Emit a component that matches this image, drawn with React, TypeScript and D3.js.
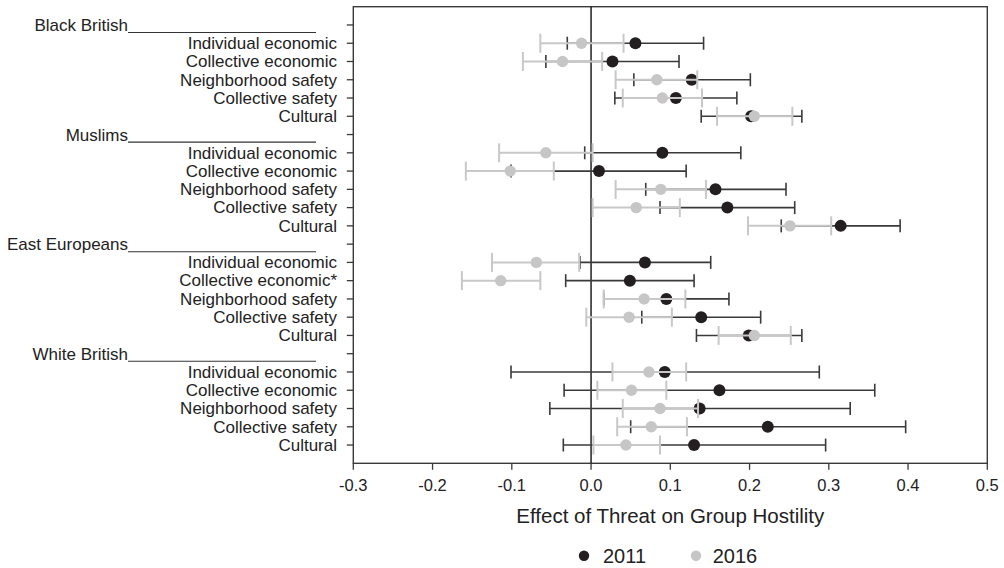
import * as d3 from "d3";

const groups = ["Black British", "Muslims", "East Europeans", "White British"];
const threats = [
  "Individual economic",
  "Collective economic",
  "Neighborhood safety",
  "Collective safety",
  "Cultural",
];
// threat labels that carry a star in the figure, as "group|threat"
const starred = ["East Europeans|Collective economic"];

// values in group order, 5 threats per group
const est2011 = [
  0.056, 0.027, 0.127, 0.107, 0.202,
  0.090, 0.010, 0.157, 0.172, 0.315,
  0.068, 0.049, 0.095, 0.139, 0.199,
  0.093, 0.162, 0.137, 0.223, 0.130,
];
const lo2011 = [
  -0.030, -0.057, 0.054, 0.030, 0.139,
  -0.008, -0.101, 0.069, 0.087, 0.240,
  -0.014, -0.032, 0.016, 0.064, 0.133,
  -0.101, -0.034, -0.052, 0.050, -0.035,
];
const hi2011 = [
  0.142, 0.111, 0.201, 0.184, 0.266,
  0.189, 0.120, 0.246, 0.257, 0.390,
  0.151, 0.130, 0.174, 0.214, 0.266,
  0.288, 0.358, 0.327, 0.397, 0.296,
];
const est2016 = [
  -0.012, -0.036, 0.083, 0.090, 0.206,
  -0.057, -0.102, 0.088, 0.057, 0.251,
  -0.069, -0.114, 0.067, 0.048, 0.206,
  0.073, 0.051, 0.087, 0.076, 0.044,
];
const lo2016 = [
  -0.064, -0.086, 0.031, 0.040, 0.159,
  -0.116, -0.158, 0.031, 0.002, 0.198,
  -0.125, -0.163, 0.016, -0.006, 0.161,
  0.027, 0.008, 0.040, 0.033, 0.003,
];
const hi2016 = [
  0.041, 0.014, 0.134, 0.140, 0.254,
  0.002, -0.047, 0.145, 0.112, 0.303,
  -0.015, -0.064, 0.119, 0.102, 0.252,
  0.120, 0.095, 0.135, 0.121, 0.087,
];
const xTicks = [-0.3, -0.2, -0.1, 0.0, 0.1, 0.2, 0.3, 0.4, 0.5];

const font = "'Liberation Sans', Arial, Helvetica, sans-serif";
const textCol = "#222";

export default function App() {
  const left = 353.3, right = 987.3, top = 6.7, bottom = 463.3;

  // row keys: a header row then the threats for each group
  const rows: string[] = [];
  groups.forEach((g) => {
    rows.push(g);
    threats.forEach((t) => rows.push(g + "|" + t));
  });

  const x = d3.scaleLinear().domain([-0.3, 0.5]).range([left, right]);
  const y = d3.scalePoint<string>().domain(rows).range([top, bottom]).padding(1);
  // plain hyphen for negatives, like the original
  const fmt = (t: number) => d3.format(".1f")(t).replace("\u2212", "-");

  const series = [
    { name: "2011", est: est2011, lo: lo2011, hi: hi2011, dot: "#231f20", line: "#3a3a3a", cap: 6.5, lw: 1.6, r: 6 },
    { name: "2016", est: est2016, lo: lo2016, hi: hi2016, dot: "#c6c6c6", line: "#c8c8c8", cap: 9.5, lw: 2, r: 5.7 },
  ];

  const points: { key: string; i: number }[] = [];
  groups.forEach((g, gi) =>
    threats.forEach((t, ti) => points.push({ key: g + "|" + t, i: gi * threats.length + ti }))
  );

  return (
    <svg width={1004} height={568} style={{ position: "absolute", left: 0, top: 0, background: "#fff" }} fontFamily={font}>
      {/* frame */}
      <rect x={left} y={top} width={right - left} height={bottom - top} fill="none" stroke="#3a3a3a" strokeWidth={1.4} />
      <line x1={x(0)} x2={x(0)} y1={top} y2={bottom} stroke="#111" strokeWidth={1.4} />

      {/* y ticks and labels */}
      {rows.map((r) => {
        const yy = y(r)!;
        const isHeader = !r.includes("|");
        const label = isHeader ? r : r.split("|")[1] + (starred.includes(r) ? "*" : "");
        return (
          <g key={r}>
            <line x1={left - 6.5} x2={left} y1={yy} y2={yy} stroke="#3a3a3a" strokeWidth={1.3} />
            {isHeader ? (
              <g>
                <text x={128} y={yy + 6.3} textAnchor="end" fontSize={17} fill={textCol}>{label}</text>
                <line x1={128} x2={316} y1={yy + 7.6} y2={yy + 7.6} stroke="#333" strokeWidth={1.1} />
              </g>
            ) : (
              <text x={337} y={yy + 5.8} textAnchor="end" fontSize={17} fill={textCol}>{label}</text>
            )}
          </g>
        );
      })}

      {/* x ticks */}
      {xTicks.map((t) => (
        <g key={t}>
          <line x1={x(t)} x2={x(t)} y1={bottom} y2={bottom + 6.5} stroke="#3a3a3a" strokeWidth={1.3} />
          <text x={x(t)} y={491} textAnchor="middle" fontSize={16.5} fill={textCol}>{fmt(t)}</text>
        </g>
      ))}
      <text x={(left + right) / 2} y={522.7} textAnchor="middle" fontSize={20.5} fill={textCol}>
        Effect of Threat on Group Hostility
      </text>

      {/* estimates with CIs, 2011 first then 2016 on top */}
      {series.map((s) => (
        <g key={s.name}>
          {points.map((p) => {
            const yy = y(p.key)!;
            return (
              <g key={p.key}>
                <line x1={x(s.lo[p.i])} x2={x(s.hi[p.i])} y1={yy} y2={yy} stroke={s.line} strokeWidth={s.lw} />
                <line x1={x(s.lo[p.i])} x2={x(s.lo[p.i])} y1={yy - s.cap} y2={yy + s.cap} stroke={s.line} strokeWidth={s.lw} />
                <line x1={x(s.hi[p.i])} x2={x(s.hi[p.i])} y1={yy - s.cap} y2={yy + s.cap} stroke={s.line} strokeWidth={s.lw} />
                <circle cx={x(s.est[p.i])} cy={yy} r={s.r} fill={s.dot} />
              </g>
            );
          })}
        </g>
      ))}

      {/* legend */}
      <circle cx={584} cy={555.7} r={5.2} fill="#231f20" />
      <text x={603} y={563.3} fontSize={20} fill={textCol}>2011</text>
      <circle cx={696} cy={555.7} r={5.2} fill="#c6c6c6" />
      <text x={712.7} y={563.3} fontSize={20} fill={textCol}>2016</text>
    </svg>
  );
}
